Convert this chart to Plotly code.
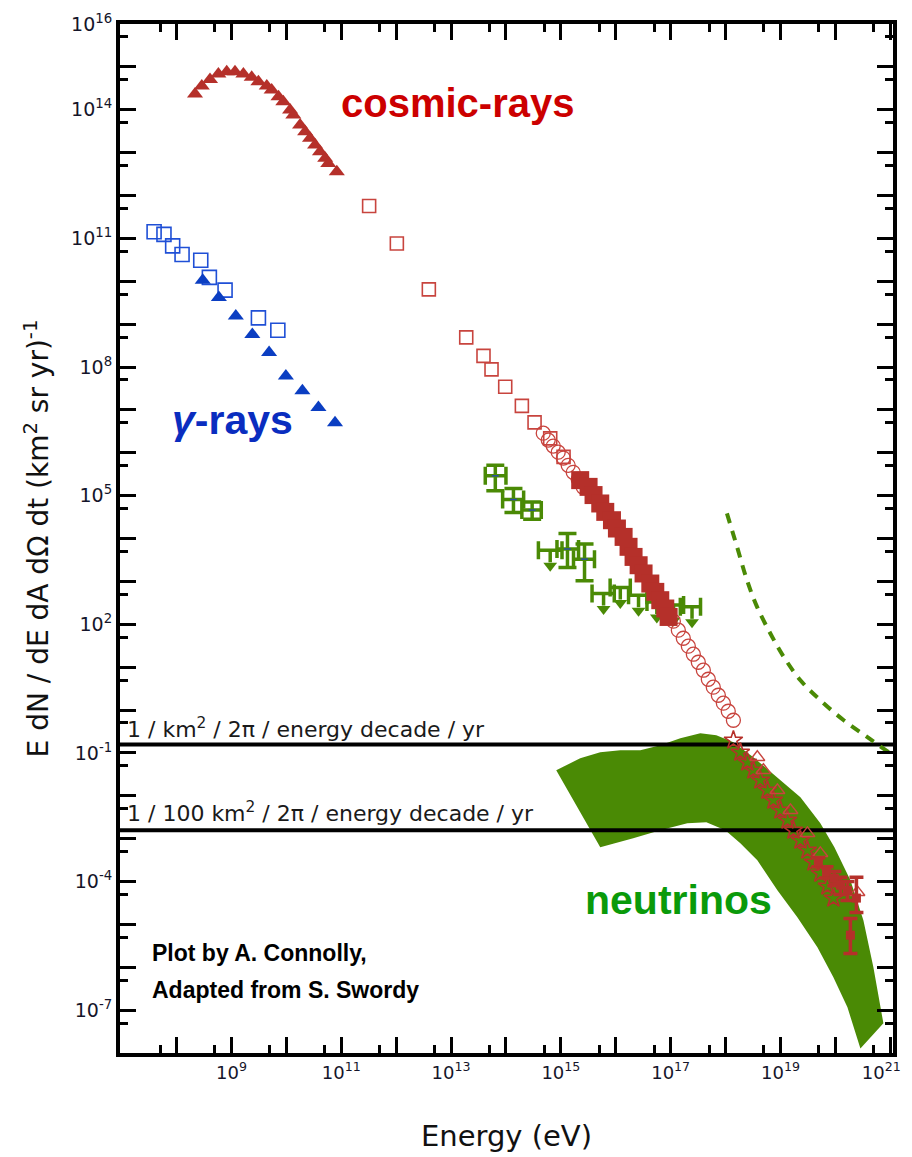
import plotly.graph_objects as go
import numpy as np

# ---------------- data ----------------
# gamma rays
gamma_sq_E = [3.9e7, 5.9e7, 8.5e7, 1.26e8, 2.76e8, 3.96e8, 7.65e8, 3.1e9, 7.0e9]
gamma_sq_F = [1.43e11, 1.24e11, 6.7e10, 4.2e10, 3.1e10, 1.23e10, 6.2e9, 1.4e9, 7.2e8]
gamma_tri_E = [3.0e8, 5.9e8, 1.2e9, 2.4e9, 4.85e9, 9.8e9, 1.96e10, 3.84e10, 7.7e10]
gamma_tri_F = [1.06e10, 4.2e9, 1.54e9, 5.75e8, 2.19e8, 6.2e7, 2.78e7, 1.14e7, 5.0e6]

# cosmic rays
cr_tri_E = [2.17e8, 2.88e8, 4.07e8, 5.78e8, 8.2e8, 1.16e9, 1.65e9, 2.34e9, 3.1e9, 4.4e9,
            5.4e9, 7.2e9, 8.8e9, 1.17e10, 1.34e10, 1.78e10, 2.2e10, 2.7e10, 3.34e10,
            4.1e10, 5.1e10, 5.8e10, 8.3e10]
cr_tri_F = [2.33e14, 3.57e14, 5.1e14, 6.8e14, 7.7e14, 7.7e14, 6.8e14, 5.7e14, 4.5e14, 3.57e14,
            2.88e14, 2.0e14, 1.54e14, 9.85e13, 7.5e13, 4.4e13, 3.07e13, 2.15e13, 1.5e13,
            1.05e13, 7.4e12, 5.6e12, 3.6e12]
cr_sq_E = [3.22e11, 1.03e12, 3.94e12, 1.89e13, 3.9e13, 5.46e13, 9.7e13, 1.95e14, 3.32e14, 6.4e14, 1.12e15]
cr_sq_F = [5.67e11, 7.6e10, 6.46e9, 4.9e8, 1.82e8, 8.8e7, 3.45e7, 1.24e7, 5.1e6, 2.16e6, 8.0e5]
cr_circ_E = [4.78e14, 5.89e14, 7.26e14, 8.95e14, 1.11e15, 1.36e15, 1.68e15, 2.07e15, 2.56e15,
             1.12e17, 1.38e17, 1.70e17, 2.10e17, 2.59e17, 3.19e17, 3.94e17, 4.85e17, 5.98e17,
             7.39e17, 9.12e17, 1.12e18, 1.39e18]
cr_circ_F = [2.86e6, 1.97e6, 1.43e6, 1.03e6, 7.5e5, 5.1e5, 3.5e5, 2.4e5, 1.57e5,
             118, 72.6, 47.2, 30.8, 20.0, 13.0, 8.47, 5.22, 3.40, 2.21, 1.44, 0.935, 0.577]
cr_fsq_E = [2.25e15, 3.2e15, 3.94e15, 5.22e15, 6.44e15, 8.53e15, 1.05e16, 1.39e16, 1.71e16,
            2.11e16, 2.61e16, 3.21e16, 4.26e16, 5.25e16, 6.47e16, 7.98e16, 9.18e16]
cr_fsq_F = [2.3e5, 1.6e5, 1.03e5, 6.56e4, 4.18e4, 2.67e4, 1.71e4, 1.09e4, 6.4e3,
            3.72e3, 2.38e3, 1.53e3, 891, 569, 364, 233, 148]
cr_star_E = [1.39e18, 1.86e18, 2.49e18, 3.21e18, 4.3e18, 5.78e18, 7.43e18, 9.96e18,
             1.34e19, 1.72e19, 2.31e19, 3.09e19, 3.98e19, 5.33e19, 7.16e19, 9.2e19]
cr_star_F = [0.197, 0.103, 0.0604, 0.0393, 0.0230, 0.0134, 7.83e-3, 4.58e-3,
             2.68e-3, 1.56e-3, 9.14e-4, 5.35e-4, 2.81e-4, 1.55e-4, 7.73e-5, 4.06e-5]
cr_otri_E = [3.79e18, 4.89e18, 8.79e18, 1.52e19, 3.1e19, 5.33e19, 2.52e20]
cr_otri_F = [0.0791, 0.0393, 0.0134, 4.58e-3, 1.33e-3, 4.55e-4, 5.6e-5]
cr_he_E = [4.9e19, 6.9e19, 9.6e19, 1.24e20, 1.66e20, 2.42e20, 1.88e20]
cr_he_F = [2.8e-4, 1.64e-4, 1.19e-4, 8.2e-5, 6.2e-5, 4.1e-5, 5.6e-6]
cr_he_Fhi = [3.6e-4, 2.2e-4, 1.7e-4, 1.25e-4, 1.0e-4, 1.25e-4, 1.38e-5]
cr_he_Flo = [2.2e-4, 1.2e-4, 8.0e-5, 5.0e-5, 3.6e-5, 1.9e-5, 2.1e-6]

# neutrino measurements (points with errors)
nu_E = [6.4e13, 1.37e14, 3.0e14, 1.32e15, 2.7e15]
nu_Elo = [4.2e13, 8.7e13, 1.95e14, 8.5e14, 1.7e15]
nu_Ehi = [1.0e14, 2.1e14, 4.4e14, 2.1e15, 4.1e15]
nu_F = [2.9e5, 8.1e4, 4.6e4, 5.7e3, 3.3e3]
nu_Flo = [1.3e5, 4.05e4, 2.8e4, 2.1e3, 1.03e3]
nu_Fhi = [5.1e5, 1.47e5, 7.1e4, 1.31e4, 7.4e3]
# neutrino upper limits
nu_ul_E = [6.4e14, 6.0e15, 1.21e16, 2.6e16, 5.6e16, 1.13e17, 2.45e17]
nu_ul_Elo = [3.9e14, 3.7e15, 7.9e15, 1.71e16, 3.7e16, 7.5e16, 1.5e17]
nu_ul_Ehi = [1.05e15, 9.4e15, 1.84e16, 3.7e16, 8.6e16, 1.72e17, 3.5e17]
nu_ul_F = [5.3e3, 520, 720, 475, 330, 280, 255]
# neutrino model band (upper edge, then lower edge back)
nu_band_E = [8.24e14, 2.25e15, 5.22e15, 1.21e16, 2.8e16, 6.47e16, 1.5e17, 3.47e17, 6.79e17,
             1.39e18, 3.21e18, 8.79e18, 2.31e19, 5.33e19, 9.6e19, 1.88e20, 3.24e20, 4.93e20,
             7.5e20, 2.86e20, 1.66e20, 9.2e19, 4.71e19, 2.03e19, 8.79e18, 3.79e18, 1.86e18,
             9.9e17, 4.47e17, 2.01e17, 6.47e16, 2.08e16, 5.22e15]
nu_band_F = [0.0393, 0.0748, 0.103, 0.115, 0.115, 0.151, 0.219, 0.287, 0.258,
             0.177, 0.0791, 0.027, 9.23e-3, 2.28e-3, 6.28e-4, 1.07e-4, 1.24e-5, 9.95e-7,
             4.92e-8, 1.28e-8, 1.16e-7, 5.82e-7, 2.92e-6, 1.46e-5, 6.24e-5, 3.13e-4, 7.78e-4,
             1.57e-3, 2.4e-3, 2.28e-3, 1.56e-3, 1.02e-3, 6.28e-4]
# dashed neutrino limit curve
nu_lim_E = [1.06e18, 1.62e18, 2.46e18, 3.75e18, 6.55e18, 1.15e19, 2.31e19, 5.33e19, 1.42e20, 3.78e20, 1.01e21]
nu_lim_F = [3.84e4, 6.38e3, 1.06e3, 254, 60.8, 17.3, 4.94, 1.69, 0.577, 0.235, 0.0964]

# reference event-rate levels
rate_levels = [0.156, 1.56e-3]
rate_labels = ["1 / km<sup>2</sup> / 2π / energy decade / yr",
               "1 / 100 km<sup>2</sup> / 2π / energy decade / yr"]

# axes ticks
x_tick_exp = list(range(8, 22))
x_label_exp = [9, 11, 13, 15, 17, 19]
x_edge_label_exp = [21]
y_tick_exp = list(range(-7, 17))
y_label_exp = [16, 14, 11, 8, 5, 2, -1, -4, -7]
x_range_log = [6.97, 21.05]
y_range_log = [-8, 16]

# ---------------- styles ----------------
RED = "#B5302A"
RED_L = "#C8443E"
BLUE = "#1F4FD6"
BLUE_F = "#0B3EC2"
GREEN = "#4A8A05"
BASEFONT = "DejaVu Sans, Liberation Sans, Arial, sans-serif"
BOLDFONT = "Liberation Sans, Arial, sans-serif"

fig = go.Figure()

# neutrino band
fig.add_trace(go.Scatter(x=nu_band_E, y=nu_band_F, mode="lines", fill="toself",
                         fillcolor=GREEN, line=dict(width=0, color=GREEN), hoverinfo="skip"))

# event-rate lines
xl = [10 ** x_range_log[0], 10 ** x_range_log[1]]
for lv in rate_levels:
    fig.add_trace(go.Scatter(x=xl, y=[lv, lv], mode="lines",
                             line=dict(color="black", width=4)))

# dashed limit curve
fig.add_trace(go.Scatter(x=nu_lim_E, y=nu_lim_F, mode="lines",
                         line=dict(color=GREEN, width=4, dash="10px,8px", shape="spline")))

# neutrino points with errors
fig.add_trace(go.Scatter(
    x=nu_E, y=nu_F, mode="markers",
    marker=dict(symbol="line-ew", size=5, color="#2a4fa0", line=dict(width=1.5, color="#2a4fa0")),
    error_x=dict(type="data", symmetric=False,
                 array=[h - c for h, c in zip(nu_Ehi, nu_E)],
                 arrayminus=[c - l for l, c in zip(nu_Elo, nu_E)],
                 color=GREEN, thickness=3.5, width=9),
    error_y=dict(type="data", symmetric=False,
                 array=[h - c for h, c in zip(nu_Fhi, nu_F)],
                 arrayminus=[c - l for l, c in zip(nu_Flo, nu_F)],
                 color=GREEN, thickness=3.5, width=9)))

# neutrino upper limits: bar + stem + arrow head
stem = 10 ** 0.28
head = 10 ** 0.36
fig.add_trace(go.Scatter(
    x=nu_ul_E, y=nu_ul_F, mode="markers",
    marker=dict(size=1, color=GREEN),
    error_x=dict(type="data", symmetric=False,
                 array=[h - c for h, c in zip(nu_ul_Ehi, nu_ul_E)],
                 arrayminus=[c - l for l, c in zip(nu_ul_Elo, nu_ul_E)],
                 color=GREEN, thickness=3.5, width=9),
    error_y=dict(type="data", symmetric=False,
                 array=[0] * len(nu_ul_F),
                 arrayminus=[f - f / stem for f in nu_ul_F],
                 color=GREEN, thickness=3.5, width=0)))
fig.add_trace(go.Scatter(
    x=nu_ul_E, y=[f / head for f in nu_ul_F], mode="markers",
    marker=dict(symbol="triangle-down", size=12, color=GREEN)))

# cosmic rays
fig.add_trace(go.Scatter(x=cr_tri_E, y=cr_tri_F, mode="markers",
                         marker=dict(symbol="triangle-up", size=14, color=RED)))
fig.add_trace(go.Scatter(x=cr_sq_E, y=cr_sq_F, mode="markers",
                         marker=dict(symbol="square-open", size=13, color=RED_L, line=dict(width=1.6))))
fig.add_trace(go.Scatter(x=cr_circ_E, y=cr_circ_F, mode="markers",
                         marker=dict(symbol="circle-open", size=14, color=RED_L, line=dict(width=1.3))))
fig.add_trace(go.Scatter(x=cr_fsq_E, y=cr_fsq_F, mode="markers",
                         marker=dict(symbol="square", size=18, color=RED)))
fig.add_trace(go.Scatter(x=cr_star_E, y=cr_star_F, mode="markers",
                         marker=dict(symbol="star-open", size=14, color=RED, line=dict(width=1.6))))
fig.add_trace(go.Scatter(x=cr_otri_E, y=cr_otri_F, mode="markers",
                         marker=dict(symbol="triangle-up-open", size=13, color=RED_L, line=dict(width=1.4))))
fig.add_trace(go.Scatter(
    x=cr_he_E, y=cr_he_F, mode="markers",
    marker=dict(symbol="square", size=9, color=RED),
    error_y=dict(type="data", symmetric=False,
                 array=[h - c for h, c in zip(cr_he_Fhi, cr_he_F)],
                 arrayminus=[c - l for l, c in zip(cr_he_Flo, cr_he_F)],
                 color=RED, thickness=3.5, width=7)))

# gamma rays
fig.add_trace(go.Scatter(x=gamma_sq_E, y=gamma_sq_F, mode="markers",
                         marker=dict(symbol="square-open", size=14, color=BLUE, line=dict(width=1.6))))
fig.add_trace(go.Scatter(x=gamma_tri_E, y=gamma_tri_F, mode="markers",
                         marker=dict(symbol="triangle-up", size=14, color=BLUE_F)))

# empty traces so the overlay tick axes are drawn
fig.add_trace(go.Scatter(x=[], y=[], xaxis="x2", yaxis="y2", mode="markers"))
fig.add_trace(go.Scatter(x=[], y=[], xaxis="x3", yaxis="y3", mode="markers"))
fig.add_trace(go.Scatter(x=[], y=[], xaxis="x4", yaxis="y", mode="markers"))

# ---------------- axes ----------------
def sup(e):
    return "10<sup>%d</sup>" % e

x_lab_vals = [10.0 ** k for k in x_label_exp]
x_lab_text = [sup(k) for k in x_label_exp]
x_edge_vals = [10.0 ** k for k in x_edge_label_exp]
x_edge_text = [sup(k) for k in x_edge_label_exp]
x_other = [10.0 ** k for k in x_tick_exp if k not in x_label_exp + x_edge_label_exp]
x_minor = [5 * 10.0 ** k for k in range(7, 21)]
y_lab_vals = [10.0 ** k for k in y_label_exp]
y_lab_text = [sup(k) for k in y_label_exp]
y_other = [10.0 ** k for k in y_tick_exp if k not in y_label_exp]
y_minor = [5 * 10.0 ** k for k in range(-8, 16)]

common = dict(type="log", tickmode="array", ticks="inside", tickwidth=3,
              tickcolor="black", showline=True, linewidth=4, linecolor="black",
              mirror="ticks", showgrid=False, zeroline=False)
XTICKFONT = dict(family=BASEFONT, size=18, color="#15152a")

fig.update_layout(
    xaxis=dict(range=x_range_log, tickvals=x_lab_vals, ticktext=x_lab_text, ticklen=16,
               tickfont=XTICKFONT,
               title=dict(text="Energy (eV)", font=dict(family=BASEFONT, size=29, color="#111"),
                          standoff=45),
               **common),
    yaxis=dict(range=y_range_log, tickvals=y_lab_vals, ticktext=y_lab_text, ticklen=16,
               tickfont=dict(family=BASEFONT, size=19, color="#15152a"),
               title=dict(text="E dN / dE dA dΩ dt (km<sup>2</sup> sr yr)<sup>-1</sup>",
                          font=dict(family=BASEFONT, size=28, color="#111"), standoff=15),
               **common),
    xaxis2=dict(overlaying="x", matches="x", tickvals=x_other, ticklen=16,
                showticklabels=False, side="bottom", **common),
    yaxis2=dict(overlaying="y", matches="y", tickvals=y_other, ticklen=16,
                showticklabels=False, side="left", **common),
    xaxis3=dict(overlaying="x", matches="x", tickvals=x_minor, ticklen=8,
                showticklabels=False, side="bottom", **common),
    yaxis3=dict(overlaying="y", matches="y", tickvals=y_minor, ticklen=8,
                showticklabels=False, side="left", **common),
    xaxis4=dict(overlaying="x", matches="x", tickvals=x_edge_vals, ticktext=x_edge_text,
                ticklen=16, tickfont=XTICKFONT, ticklabelshift=-9, side="bottom", **common),
)

# ---------------- annotations ----------------
ann = []
ann.append(dict(text="<b>cosmic-rays</b>", x=0.436, y=0.923, xref="paper", yref="paper",
                xanchor="center", yanchor="middle", showarrow=False,
                font=dict(family=BOLDFONT, size=40, color="#CC0000")))
ann.append(dict(text="<b><i>γ</i>-rays</b>", x=0.146, y=0.615, xref="paper", yref="paper",
                xanchor="center", yanchor="middle", showarrow=False,
                font=dict(family=BOLDFONT, size=41, color="#0A2DBF")))
ann.append(dict(text="<b>neutrinos</b>", x=0.723, y=0.149, xref="paper", yref="paper",
                xanchor="center", yanchor="middle", showarrow=False,
                font=dict(family=BOLDFONT, size=41, color="#0A9A0A")))
for txt, yp in zip(["<b>Plot by A. Connolly,</b>", "<b>Adapted from S. Swordy</b>"], [0.0972, 0.0612]):
    ann.append(dict(text=txt, x=0.0388, y=yp, xref="paper", yref="paper",
                    xanchor="left", yanchor="middle", showarrow=False,
                    font=dict(family=BOLDFONT, size=23, color="black")))
for txt, yp in zip(rate_labels, [0.316, 0.234]):
    ann.append(dict(text=txt, x=0.0065, y=yp, xref="paper", yref="paper", xanchor="left",
                    yanchor="middle", showarrow=False,
                    font=dict(family=BASEFONT, size=22, color="#1a1a1a")))

fig.update_layout(width=904, height=1149, margin=dict(l=112, r=19, t=16, b=104, autoexpand=False),
                  plot_bgcolor="white", paper_bgcolor="white", showlegend=False,
                  annotations=ann)

fig.write_html("out.html")
